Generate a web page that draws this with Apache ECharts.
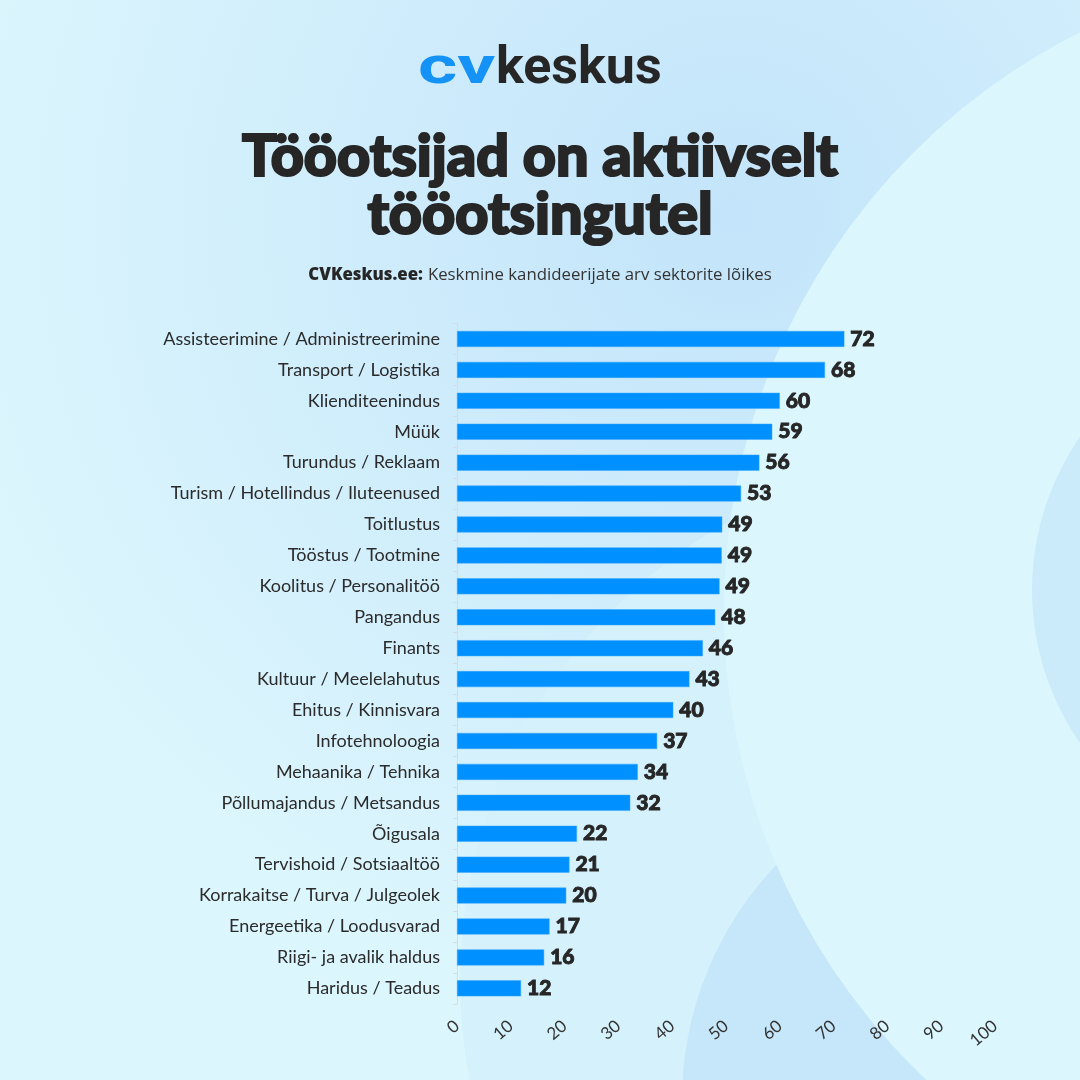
<!DOCTYPE html>
<html>
<head>
<meta charset="utf-8">
<script src="https://cdn.jsdelivr.net/npm/echarts@6/dist/echarts.min.js"></script>
<style>
  html, body { margin: 0; padding: 0; background: #d6f2fc; }
  #chart { width: 1080px; height: 1080px; }
</style>
</head>
<body>
<div id="chart"></div>
<script>
// ---- Data ----
const categories = [
  'Assisteerimine / Administreerimine',
  'Transport / Logistika',
  'Klienditeenindus',
  'Müük',
  'Turundus / Reklaam',
  'Turism / Hotellindus / Iluteenused',
  'Toitlustus',
  'Tööstus / Tootmine',
  'Koolitus / Personalitöö',
  'Pangandus',
  'Finants',
  'Kultuur / Meelelahutus',
  'Ehitus / Kinnisvara',
  'Infotehnoloogia',
  'Mehaanika / Tehnika',
  'Põllumajandus / Metsandus',
  'Õigusala',
  'Tervishoid / Sotsiaaltöö',
  'Korrakaitse / Turva / Julgeolek',
  'Energeetika / Loodusvarad',
  'Riigi- ja avalik haldus',
  'Haridus / Teadus'
];
// average number of applicants per job ad (bar lengths)
const values = [72.0, 68.4, 60.0, 58.6, 56.2, 52.8, 49.3, 49.2, 48.8, 48.0, 45.7, 43.2,
                40.2, 37.2, 33.6, 32.2, 22.3, 20.9, 20.3, 17.2, 16.2, 11.9];
// labels as printed on the chart
const valueLabels = [72, 68, 60, 59, 56, 53, 49, 49, 49, 48, 46, 43, 40, 37, 34, 32, 22, 21, 20, 17, 16, 12];
const xTicks = { min: 0, max: 100, interval: 10 };

const titleText = 'Tööotsijad on aktiivselt\ntööotsingutel';
const subtitleBold = 'CVKeskus.ee:';
const subtitleText = 'Keskmine kandideerijate arv sektorite lõikes';

const chart = echarts.init(document.getElementById('chart'), null, { renderer: 'canvas' });

const option = {
  backgroundColor: 'transparent',
  animation: false,
  graphic: [
    // background
    { type: 'rect', z: -10, silent: true, shape: { x: 0, y: 0, width: 1080, height: 1080 },
      style: { fill: new echarts.graphic.RadialGradient(0.68, 0.2, 0.75, [
        { offset: 0, color: '#c3e4fa' }, { offset: 1, color: '#dcf6fd' }]) } },
    { type: 'circle', z: -9, silent: true, shape: { cx: 985, cy: 980, r: 525 }, style: { fill: '#d5f2fc' } },
    { type: 'circle', z: -8, silent: true, shape: { cx: 1022, cy: 1100, r: 340 }, style: { fill: '#c6e6f9' } },
    { type: 'circle', z: -7, silent: true, shape: { cx: 1371, cy: 610, r: 647 }, style: { fill: '#dcf6fd' } },
    { type: 'circle', z: -6, silent: true, shape: { cx: 1300, cy: 590, r: 268 }, style: { fill: '#cbeafa' } },
    // logo
    { type: 'text', z: 5, left: 418, top: 44, style: { text: 'cv', fill: '#1592f6', font: 'bold 52px Roboto' }, scaleX: 1.45 },
    { type: 'text', z: 5, left: 496, top: 44, style: { text: 'keskus', fill: '#262626', font: 'bold 52px Roboto' } }
  ],
  title: [
    { text: titleText, left: 'center', top: 123,
      textStyle: { fontFamily: 'Lato', fontWeight: 900, fontSize: 57.5, lineHeight: 58, color: '#262626',
        textBorderColor: '#262626', textBorderWidth: 2.2, align: 'center' } },
    { text: '{b|' + subtitleBold + '} {r|' + subtitleText + '}', left: 'center', top: 261,
      textStyle: { rich: {
        b: { fontFamily: 'Open Sans', fontWeight: 800, fontSize: 16.8, color: '#262626' },
        r: { fontFamily: 'Open Sans', fontWeight: 400, fontSize: 16.8, color: '#333333' } } } }
  ],
  grid: { left: 457, right: 85, top: 323.5, bottom: 76.2, containLabel: false },
  xAxis: {
    type: 'value', min: xTicks.min, max: xTicks.max, interval: xTicks.interval,
    axisLine: { show: false }, axisTick: { show: false }, splitLine: { show: false },
    axisLabel: { rotate: 40, margin: 20, fontFamily: 'Lato', fontSize: 17, color: '#333333' }
  },
  yAxis: {
    type: 'category', data: categories, inverse: true,
    axisLine: { show: true, lineStyle: { color: '#d4dde3', width: 1 } },
    axisTick: { show: true, length: 4, lineStyle: { color: '#d4dde3' } },
    axisLabel: { margin: 17, fontFamily: 'Lato', fontSize: 18, color: '#2b2b2b' }
  },
  series: [{
    type: 'bar', data: values, barWidth: 16,
    itemStyle: { color: '#0090ff', borderColor: '#3aa6ff', borderWidth: 0.5 },
    label: { show: true, position: 'right', distance: 6,
      formatter: p => String(valueLabels[p.dataIndex]),
      fontFamily: 'Lato', fontWeight: 900, fontSize: 21, color: '#262626',
      textBorderColor: '#262626', textBorderWidth: 0.9 }
  }]
};
chart.setOption(option);
</script>
</body>
</html>
